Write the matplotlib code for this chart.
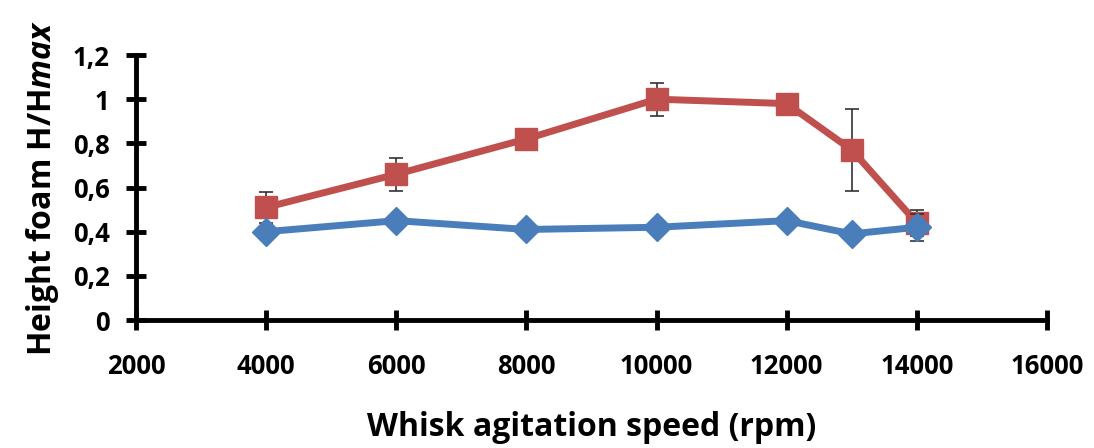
import matplotlib
matplotlib.use("Agg")
import matplotlib.pyplot as plt

# data
speed = [4000, 6000, 8000, 10000, 12000, 13000, 14000]
red_vals = [0.51, 0.66, 0.82, 1.00, 0.98, 0.77, 0.44]
red_err = [0.07, 0.075, 0.0, 0.075, 0.0, 0.185, 0.06]
blue_vals = [0.40, 0.45, 0.41, 0.42, 0.45, 0.39, 0.42]
blue_err = [0.0, 0.0, 0.0, 0.0, 0.0, 0.0, 0.06]

xticks = [2000, 4000, 6000, 8000, 10000, 12000, 14000, 16000]
yticks = [0, 0.2, 0.4, 0.6, 0.8, 1.0, 1.2]
ytick_labels = ["0", "0,2", "0,4", "0,6", "0,8", "1", "1,2"]

plt.rcParams['font.family'] = ['Open Sans', 'DejaVu Sans']
plt.rcParams['mathtext.fontset'] = 'custom'
plt.rcParams['mathtext.it'] = 'Open Sans:bold:italic'
plt.rcParams['mathtext.rm'] = 'Open Sans:bold'

fig = plt.figure(figsize=(10.94, 4.48), dpi=100)
ax = fig.add_axes([0.1243, 0.2857, 0.8327, 0.5915])

red = "#C0504D"
blue = "#4A7EBB"

ax.errorbar(speed, red_vals, yerr=red_err, color=red, lw=5, marker="s",
            markersize=16, ecolor="#333333", elinewidth=1.2, capsize=5,
            capthick=1.2, zorder=3)
ax.errorbar(speed, blue_vals, yerr=blue_err, color=blue, lw=5, marker="D",
            markersize=14, ecolor="#333333", elinewidth=1.2, capsize=5,
            capthick=1.2, zorder=4)

ax.set_xlim(2000, 16000)
ax.set_ylim(0, 1.2)
ax.set_xticks(xticks)
ax.set_xticklabels([str(t) for t in xticks])
ax.set_yticks(yticks)
ax.set_yticklabels(ytick_labels)

for s in ["top", "right"]:
    ax.spines[s].set_visible(False)
for s in ["left", "bottom"]:
    ax.spines[s].set_linewidth(3.5)
    ax.spines[s].set_color("black")

ax.tick_params(axis="both", direction="inout", length=14, width=3.5,
               labelsize=18.5)
ax.tick_params(axis="x", pad=17)
ax.tick_params(axis="y", pad=12)
for lab in ax.get_xticklabels() + ax.get_yticklabels():
    lab.set_fontweight("bold")

ax.set_xlabel("Whisk agitation speed (rpm)", fontsize=23, fontweight="bold",
              labelpad=22)
ax.set_ylabel(r"Height foam H/H$max$", fontsize=23, fontweight="bold",
              labelpad=8)
for sp in ax.spines.values():
    sp.set_zorder(5)

fig.savefig("out.png", dpi=100)
